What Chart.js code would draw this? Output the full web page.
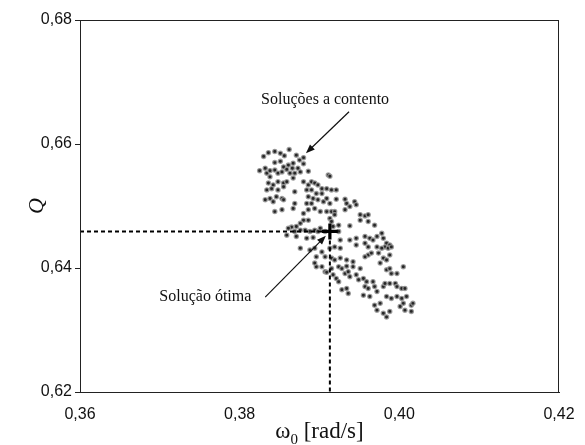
<!DOCTYPE html>
<html>
<head>
<meta charset="utf-8">
<script src="https://cdn.jsdelivr.net/npm/chart.js@4/dist/chart.umd.min.js"></script>
<style>
  html, body { margin: 0; padding: 0; background: #fff; }
  #wrap { width: 585px; height: 445px; }
</style>
</head>
<body>
<div id="wrap"><canvas id="c" width="585" height="445"></canvas></div>
<script>
// Candidate solutions: natural frequency ω0 [rad/s] and quality factor Q
const omega = [
  0.3830,0.3836,0.3844,0.3851,0.3856,0.3862,0.3844,0.3851,0.3855,0.3861,
  0.3867,0.3875,0.3880,0.3866,0.3873,0.3880,0.3825,0.3832,0.3834,0.3838,
  0.3844,0.3848,0.3853,0.3859,0.3863,0.3869,0.3876,0.3886,0.3836,0.3842,
  0.3848,0.3855,0.3859,0.3834,0.3840,0.3848,0.3855,0.3832,0.3838,0.3842,
  0.3846,0.3853,0.3855,0.3844,0.3853,0.3867,0.3869,0.3880,0.3886,0.3890,
  0.3894,0.3898,0.3903,0.3909,0.3915,0.3921,0.3884,0.3890,0.3896,0.3903,
  0.3911,0.3913,0.3886,0.3892,0.3898,0.3905,0.3909,0.3913,0.3921,0.3932,
  0.3934,0.3944,0.3946,0.3884,0.3890,0.3894,0.3886,0.3880,0.3901,0.3909,
  0.3915,0.3919,0.3919,0.3913,0.3932,0.3938,0.3951,0.3957,0.3961,0.3951,
  0.3961,0.3969,0.3880,0.3886,0.3876,0.3871,0.3865,0.3861,0.3859,0.3869,
  0.3876,0.3882,0.3888,0.3894,0.3898,0.3901,0.3907,0.3915,0.3924,0.3924,
  0.3938,0.3871,0.3884,0.3892,0.3946,0.3957,0.3963,0.3972,0.3978,0.3980,
  0.3984,0.3988,0.3982,0.3978,0.3967,0.3961,0.3961,0.3965,0.3974,0.3876,
  0.3888,0.3894,0.3903,0.3913,0.3919,0.3926,0.3907,0.3915,0.3919,0.3926,
  0.3934,0.3942,0.3924,0.3928,0.3934,0.3942,0.3951,0.3957,0.3980,0.3984,
  0.3988,0.3984,0.3988,0.3990,0.4005,0.3915,0.3907,0.3896,0.3909,0.3917,
  0.3921,0.3924,0.3932,0.3936,0.3938,0.3946,0.3949,0.3955,0.3959,0.3967,
  0.3969,0.3957,0.3961,0.3928,0.3934,0.3936,0.3955,0.3963,0.3972,0.3980,
  0.3982,0.3988,0.3995,0.3997,0.4003,0.4007,0.3997,0.4003,0.4005,0.4009,
  0.4001,0.4007,0.4015,0.4017,0.4015,0.3969,0.3976,0.3972,0.3980,0.3984,
  0.3988,0.3984,0.3990,0.3997,0.3896,0.3894,0.3903,0.3938,0.3946,0.3972,
  0.3986,0.3990,0.3976,0.3957,0.3926,0.3869,0.3838,0.3871,0.3867,0.3917
];
const q = [
  0.6580,0.6586,0.6588,0.6585,0.6581,0.6591,0.6570,0.6572,0.6563,0.6566,
  0.6569,0.6574,0.6568,0.6561,0.6561,0.6578,0.6557,0.6561,0.6553,0.6557,
  0.6558,0.6553,0.6555,0.6559,0.6553,0.6553,0.6555,0.6556,0.6537,0.6534,
  0.6539,0.6537,0.6539,0.6526,0.6528,0.6526,0.6531,0.6510,0.6512,0.6507,
  0.6515,0.6512,0.6510,0.6491,0.6494,0.6496,0.6523,0.6539,0.6534,0.6539,
  0.6537,0.6534,0.6528,0.6528,0.6526,0.6526,0.6526,0.6526,0.6520,0.6520,
  0.6550,0.6548,0.6515,0.6512,0.6510,0.6507,0.6512,0.6504,0.6511,0.6511,
  0.6504,0.6507,0.6502,0.6504,0.6504,0.6496,0.6494,0.6488,0.6491,0.6491,
  0.6491,0.6491,0.6486,0.6480,0.6494,0.6499,0.6486,0.6484,0.6486,0.6477,
  0.6475,0.6469,0.6477,0.6477,0.6472,0.6467,0.6466,0.6464,0.6453,0.6459,
  0.6461,0.6461,0.6459,0.6461,0.6459,0.6464,0.6459,0.6475,0.6469,0.6459,
  0.6468,0.6451,0.6448,0.6449,0.6448,0.6451,0.6448,0.6451,0.6456,0.6448,
  0.6440,0.6437,0.6434,0.6432,0.6445,0.6434,0.6421,0.6424,0.6424,0.6432,
  0.6429,0.6432,0.6426,0.6432,0.6434,0.6432,0.6418,0.6416,0.6413,0.6416,
  0.6413,0.6410,0.6402,0.6399,0.6403,0.6402,0.6399,0.6418,0.6416,0.6413,
  0.6421,0.6397,0.6399,0.6391,0.6402,0.6399,0.6394,0.6402,0.6393,0.6389,
  0.6383,0.6378,0.6391,0.6394,0.6386,0.6389,0.6381,0.6383,0.6378,0.6378,
  0.6370,0.6370,0.6367,0.6365,0.6367,0.6359,0.6356,0.6354,0.6362,0.6370,
  0.6375,0.6375,0.6375,0.6370,0.6367,0.6367,0.6354,0.6351,0.6343,0.6354,
  0.6338,0.6332,0.6340,0.6343,0.6330,0.6340,0.6343,0.6332,0.6327,0.6321,
  0.6330,0.6354,0.6351,0.6391,0.6418,0.6408,0.6402,0.6445,0.6437,0.6434,
  0.6432,0.6434,0.6408,0.6440,0.6445,0.6504,0.6547,0.6582,0.6545,0.6467
];

// Chosen (optimal) solution
const bestOmega = 0.3913;
const bestQ = 0.6459;

// Axis ranges and tick values
const xTicks = [0.36, 0.38, 0.40, 0.42];
const yTicks = [0.62, 0.64, 0.66, 0.68];

// Callout texts with text anchor, arrow tail and arrow tip (data units)
const calloutText = ['Soluções a contento', 'Solução ótima'];
const calloutTextAt = [[0.3907, 0.6671], [0.3757, 0.6353]];
const calloutFrom = [[0.3937, 0.6652], [0.3832, 0.6353]];
const calloutTo = [[0.3883, 0.6585], [0.3908, 0.6452]];

const fmt = v => v.toFixed(2).replace('.', ',');

const cloud = omega.map((w, i) => ({ x: w, y: q[i] }));
const guide = [
  { x: xTicks[0], y: bestQ },
  { x: bestOmega, y: bestQ },
  { x: bestOmega, y: yTicks[0] }
];

function arrow(ctx, x1, y1, x2, y2) {
  const a = Math.atan2(y2 - y1, x2 - x1);
  const L = 9, W = 3.5;
  ctx.beginPath();
  ctx.moveTo(x1, y1);
  ctx.lineTo(x2 - Math.cos(a) * L * 0.8, y2 - Math.sin(a) * L * 0.8);
  ctx.stroke();
  ctx.beginPath();
  ctx.moveTo(x2, y2);
  ctx.lineTo(x2 - Math.cos(a) * L + Math.sin(a) * W, y2 - Math.sin(a) * L - Math.cos(a) * W);
  ctx.lineTo(x2 - Math.cos(a) * L - Math.sin(a) * W, y2 - Math.sin(a) * L + Math.cos(a) * W);
  ctx.closePath();
  ctx.fill();
}

const decorations = {
  id: 'decorations',
  afterDraw(chart) {
    const { ctx, chartArea: ca, scales: { x, y } } = chart;
    ctx.save();
    // frame
    ctx.strokeStyle = '#222';
    ctx.lineWidth = 1;
    ctx.strokeRect(ca.left + 0.5, ca.top + 0.5, ca.right - ca.left - 1, ca.bottom - ca.top);

    // callouts
    ctx.fillStyle = '#111';
    ctx.strokeStyle = '#111';
    ctx.lineWidth = 1.2;
    ctx.font = '16px "Liberation Serif", "Times New Roman", serif';
    ctx.textAlign = 'center';
    ctx.textBaseline = 'middle';
    calloutText.forEach((t, i) => {
      ctx.fillText(t, x.getPixelForValue(calloutTextAt[i][0]), y.getPixelForValue(calloutTextAt[i][1]));
      arrow(ctx,
        x.getPixelForValue(calloutFrom[i][0]), y.getPixelForValue(calloutFrom[i][1]),
        x.getPixelForValue(calloutTo[i][0]), y.getPixelForValue(calloutTo[i][1]));
    });

    // x axis title: ω0 [rad/s]
    const cx = (ca.left + ca.right) / 2;
    const base = 438;
    const big = '23px "Liberation Serif", "Times New Roman", serif';
    const small = '15px "Liberation Serif", "Times New Roman", serif';
    ctx.textBaseline = 'alphabetic';
    ctx.textAlign = 'left';
    ctx.font = big;
    const wOmega = ctx.measureText('ω').width;
    const wRest = ctx.measureText(' [rad/s]').width;
    ctx.font = small;
    const wSub = ctx.measureText('0').width;
    let sx = cx - (wOmega + wSub + wRest) / 2;
    ctx.font = big;
    ctx.fillText('ω', sx, base);
    ctx.font = small;
    ctx.fillText('0', sx + wOmega, base + 6);
    ctx.font = big;
    ctx.fillText(' [rad/s]', sx + wOmega + wSub, base);

    // y axis title: Q
    ctx.translate(37, (ca.top + ca.bottom) / 2);
    ctx.rotate(-Math.PI / 2);
    ctx.textAlign = 'center';
    ctx.textBaseline = 'middle';
    ctx.font = 'italic 22px "Liberation Serif", "Times New Roman", serif';
    ctx.fillText('Q', 0, 0);
    ctx.restore();
  }
};

new Chart(document.getElementById('c'), {
  type: 'scatter',
  data: {
    datasets: [
      {
        label: 'Solução ótima',
        data: [{ x: bestOmega, y: bestQ }],
        pointStyle: 'cross',
        pointRadius: 8,
        borderWidth: 3.2,
        borderColor: '#000',
        backgroundColor: '#000',
        order: 0
      },
      {
        label: 'guia',
        data: guide,
        showLine: true,
        pointRadius: 0,
        borderColor: '#000',
        borderWidth: 2,
        borderDash: [4, 3],
        fill: false,
        order: 1
      },
      {
        label: 'Soluções',
        data: cloud,
        pointRadius: 2.1,
        pointBorderWidth: 1.3,
        backgroundColor: '#262626',
        borderColor: 'rgba(150,150,150,0.85)',
        order: 2
      }
    ]
  },
  options: {
    responsive: false,
    animation: false,
    devicePixelRatio: 1,
    layout: { padding: { top: 20, right: 26, left: 0, bottom: 0 } },
    plugins: { legend: { display: false }, tooltip: { enabled: false } },
    scales: {
      x: {
        type: 'linear',
        min: xTicks[0],
        max: xTicks[xTicks.length - 1],
        afterBuildTicks: s => { s.ticks = xTicks.map(v => ({ value: v })); },
        afterFit: s => { s.height = 53; },
        grid: { display: false },
        border: { display: true, color: '#222', width: 1 },
        ticks: {
          padding: 5,
          maxRotation: 0,
          color: '#111',
          font: { family: '"Liberation Sans", Arial, sans-serif', size: 16 },
          callback: v => fmt(v)
        }
      },
      y: {
        type: 'linear',
        min: yTicks[0],
        max: yTicks[yTicks.length - 1],
        afterBuildTicks: s => { s.ticks = yTicks.map(v => ({ value: v })); },
        afterFit: s => { s.width = 80; },
        grid: { drawOnChartArea: false, tickLength: 5, tickColor: '#222' },
        border: { display: true, color: '#222', width: 1 },
        ticks: {
          padding: 3,
          color: '#111',
          font: { family: '"Liberation Sans", Arial, sans-serif', size: 16 },
          callback: v => fmt(v)
        }
      }
    }
  },
  plugins: [decorations]
});
</script>
</body>
</html>
